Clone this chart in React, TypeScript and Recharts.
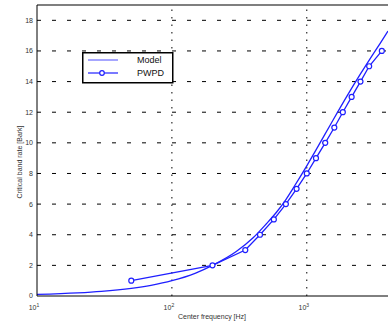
import { LineChart, Line, XAxis, YAxis, ReferenceLine } from "recharts";

// model curve
const modelFreq = [10, 20, 30, 50, 70, 100, 150, 200, 300, 400, 500, 600, 700, 800, 1000, 1200, 1500, 2000, 2500, 3000, 3500, 4000];
const modelBark = [0.1, 0.2, 0.3, 0.5, 0.7, 1.0, 1.5, 2.0, 2.9, 3.8, 4.7, 5.5, 6.3, 7.1, 8.5, 9.7, 11.2, 13.1, 14.5, 15.6, 16.5, 17.3];

// PWPD points
const pwpdFreq = [50, 200, 350, 450, 570, 700, 840, 1000, 1170, 1370, 1600, 1850, 2150, 2500, 2900, 3600];
const pwpdBark = [1, 2, 3, 4, 5, 6, 7, 8, 9, 10, 11, 12, 13, 14, 15, 16];

const xTicks = [10, 100, 1000];
const xTickExp = ["1", "2", "3"];
const yTicks = [0, 2, 4, 6, 8, 10, 12, 14, 16, 18];

const modelData = modelFreq.map((f, i) => ({ f, v: modelBark[i] }));
const pwpdData = pwpdFreq.map((f, i) => ({ f, v: pwpdBark[i] }));

const FONT = "'Liberation Sans', Arial, sans-serif";
const BLUE = "#1f1fff";

function XTick(props: any) {
  const { x, y, payload } = props;
  const idx = xTicks.indexOf(payload.value);
  return (
    <text x={x - 3} y={y + 6} fontSize={7} fill="#333" fontFamily={FONT} textAnchor="middle">
      10
      <tspan dy={-3} fontSize={5}>{xTickExp[idx]}</tspan>
    </text>
  );
}

function LegendBox() {
  return (
    <svg width={92} height={32} style={{ position: "absolute", left: 82, top: 52, display: "block" }}>
      <rect x={0.75} y={0.75} width={90} height={30} fill="#fff" stroke="#000" strokeWidth={1.5} />
      <line x1={6} x2={36} y1={8} y2={8} stroke="#6a6aff" strokeWidth={1.2} />
      <line x1={6} x2={36} y1={21} y2={21} stroke={BLUE} strokeWidth={1.2} />
      <circle cx={20} cy={21} r={2.3} fill="#fff" stroke={BLUE} strokeWidth={1.2} />
      <text x={55} y={11} fontSize={9} fontFamily={FONT} fill="#111">Model</text>
      <text x={55} y={24} fontSize={9} fontFamily={FONT} fill="#111">PWPD</text>
    </svg>
  );
}

export default function App() {
  return (
    <div style={{ position: "absolute", left: 0, top: 0, width: 388, height: 326, background: "#fff" }}>
      <LineChart width={388} height={326} margin={{ top: 5, right: 0, left: 0, bottom: 0 }}>
        <XAxis
          dataKey="f"
          type="number"
          scale="log"
          domain={[10, 4000]}
          ticks={xTicks}
          allowDataOverflow
          height={30}
          stroke="#000"
          tickLine={false}
          tick={<XTick />}
        />
        <YAxis
          dataKey="v"
          type="number"
          domain={[0, 19]}
          ticks={yTicks}
          width={37}
          stroke="#000"
          tickLine={false}
          tickSize={0}
          tickMargin={4}
          tick={{ fontSize: 7, fill: "#333", fontFamily: FONT }}
          allowDataOverflow
        />
        {yTicks.slice(1).map((t) => (
          <ReferenceLine key={"y" + t} y={t} stroke="#000" strokeWidth={1} strokeDasharray="4 11" />
        ))}
        {xTicks.slice(1).map((t) => (
          <ReferenceLine key={"x" + t} x={t} stroke="#000" strokeWidth={1} strokeDasharray="1.5 6" />
        ))}
        <ReferenceLine y={19} stroke="#000" strokeWidth={1.2} />
        <Line
          data={modelData}
          dataKey="v"
          type="monotone"
          stroke={BLUE}
          strokeWidth={1.3}
          dot={false}
          isAnimationActive={false}
        />
        <Line
          data={pwpdData}
          dataKey="v"
          type="linear"
          stroke={BLUE}
          strokeWidth={1.3}
          dot={{ r: 2.5, fill: "#fff", stroke: BLUE, strokeWidth: 1.2 }}
          isAnimationActive={false}
        />
        <text x={212} y={319} fontSize={7} fill="#333" fontFamily={FONT} textAnchor="middle">
          Center frequency [Hz]
        </text>
        <text
          x={22}
          y={162}
          fontSize={7}
          fill="#333"
          fontFamily={FONT}
          textAnchor="middle"
          transform="rotate(-90 22 162)"
        >
          Critical band rate [Bark]
        </text>
      </LineChart>
      <LegendBox />
    </div>
  );
}
